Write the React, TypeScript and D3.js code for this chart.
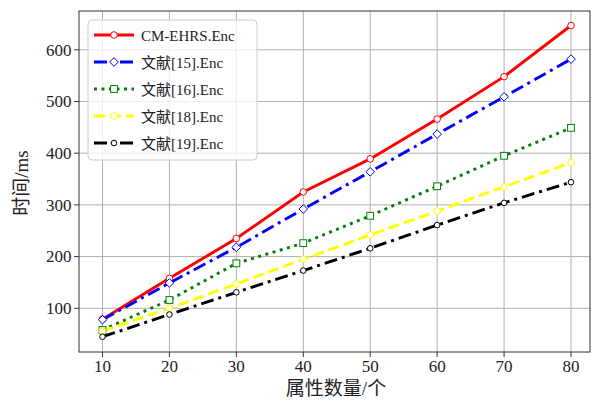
import React from "react";
import * as d3 from "d3";

const attrCounts = [10, 20, 30, 40, 50, 60, 70, 80];
const cmEhrs = [79, 158, 235, 325, 389, 466, 548, 647];
const ref15 = [78, 149, 218, 292, 364, 437, 509, 582];
const ref16 = [58, 116, 187, 226, 279, 336, 395, 449];
const ref18 = [56, 100, 147, 195, 242, 288, 335, 382];
const ref19 = [45, 88, 131, 173, 216, 261, 304, 344];
const seriesNames = ["CM-EHRS.Enc", "文献[15].Enc", "文献[16].Enc", "文献[18].Enc", "文献[19].Enc"];
const xTicks = [10, 20, 30, 40, 50, 60, 70, 80];
const yTicks = [100, 200, 300, 400, 500, 600];

const W = 591, H = 402;
const L = 79, R = 590, T = 11, B = 352;
const FONT = "'Liberation Serif', 'Times New Roman', 'Noto Sans CJK SC', serif";

type Marker = "circle" | "diamond" | "square" | "smallcircle";
const styles: { color: string; dash: string; marker: Marker }[] = [
  { color: "#ff0000", dash: "none", marker: "circle" },
  { color: "#0000ff", dash: "13,5,3,5", marker: "diamond" },
  { color: "#008000", dash: "3,4.5", marker: "square" },
  { color: "#ffff00", dash: "11,5", marker: "circle" },
  { color: "#000000", dash: "13,5,3,5", marker: "smallcircle" },
];

function MarkerShape({ x, y, m, color }: { x: number; y: number; m: Marker; color: string }) {
  if (m === "circle") return <circle cx={x} cy={y} r={3.3} fill="#fff" stroke={color} strokeWidth={1} />;
  if (m === "smallcircle") return <circle cx={x} cy={y} r={2.8} fill="#fff" stroke={color} strokeWidth={1} />;
  if (m === "diamond") {
    const s = 4.3;
    return <path d={`M${x},${y - s}L${x + s},${y}L${x},${y + s}L${x - s},${y}Z`} fill="#fff" stroke={color} strokeWidth={1} />;
  }
  return <rect x={x - 3.4} y={y - 3.4} width={6.8} height={6.8} fill="#fff" stroke={color} strokeWidth={1} />;
}

export default function App() {
  const x = d3.scaleLinear().domain([10, 80]).range([102.5, 571]);
  const y = d3.scaleLinear().domain([100, 600]).range([308.3, 49.8]);
  const data = [cmEhrs, ref15, ref16, ref18, ref19];
  const line = d3.line<number>().x((_, i) => x(attrCounts[i])).y((d) => y(d));

  return (
    <svg width={W} height={H} style={{ position: "absolute", left: 0, top: 0, background: "#fff" }} fontFamily={FONT}>
      <rect x={0} y={0} width={W} height={H} fill="#fff" />
      {/* grid */}
      {xTicks.map((t) => (
        <line key={"gx" + t} x1={x(t)} x2={x(t)} y1={T} y2={B} stroke="#b0b0b0" strokeWidth={1} />
      ))}
      {yTicks.map((t) => (
        <line key={"gy" + t} x1={L} x2={R} y1={y(t)} y2={y(t)} stroke="#b0b0b0" strokeWidth={1} />
      ))}
      {/* lines */}
      {data.map((d, i) => (
        <path key={"l" + i} d={line(d) || ""} fill="none" stroke={styles[i].color} strokeWidth={2.9}
          strokeDasharray={styles[i].dash} />
      ))}
      {data.map((d, i) =>
        d.map((v, j) => (
          <MarkerShape key={"m" + i + "-" + j} x={x(attrCounts[j])} y={y(v)} m={styles[i].marker} color={styles[i].color} />
        ))
      )}
      {/* spines */}
      <rect x={L} y={T} width={R - L} height={B - T} fill="none" stroke="#333" strokeWidth={1} />
      {/* ticks */}
      {xTicks.map((t) => (
        <g key={"tx" + t}>
          <line x1={x(t)} x2={x(t)} y1={B} y2={B + 5} stroke="#333" strokeWidth={1} />
          <text x={x(t)} y={372} textAnchor="middle" fontSize={17} fill="#222">{t}</text>
        </g>
      ))}
      {yTicks.map((t) => (
        <g key={"ty" + t}>
          <line x1={L - 5} x2={L} y1={y(t)} y2={y(t)} stroke="#333" strokeWidth={1} />
          <text x={71.5} y={y(t) + 5.8} textAnchor="end" fontSize={17} fill="#222">{t}</text>
        </g>
      ))}
      {/* axis titles */}
      <text x={336} y={395} textAnchor="middle" fontSize={19} fill="#222">属性数量/个</text>
      <text transform={`translate(28,${183}) rotate(-90)`} textAnchor="middle" fontSize={19} fill="#222">时间/ms</text>
      {/* legend */}
      <rect x={88} y={20} width={169} height={140} rx={4} fill="#fff" fillOpacity={0.8} stroke="#cccccc" strokeWidth={1} />
      {seriesNames.map((n, i) => {
        const ly = 35 + i * 27;
        return (
          <g key={"lg" + i}>
            <line x1={94} x2={134} y1={ly} y2={ly} stroke={styles[i].color} strokeWidth={2.9} strokeDasharray={styles[i].dash} />
            <MarkerShape x={114} y={ly} m={styles[i].marker} color={styles[i].color} />
            <text x={141} y={ly + 5.5} fontSize={15} fill="#222">{n}</text>
          </g>
        );
      })}
    </svg>
  );
}
